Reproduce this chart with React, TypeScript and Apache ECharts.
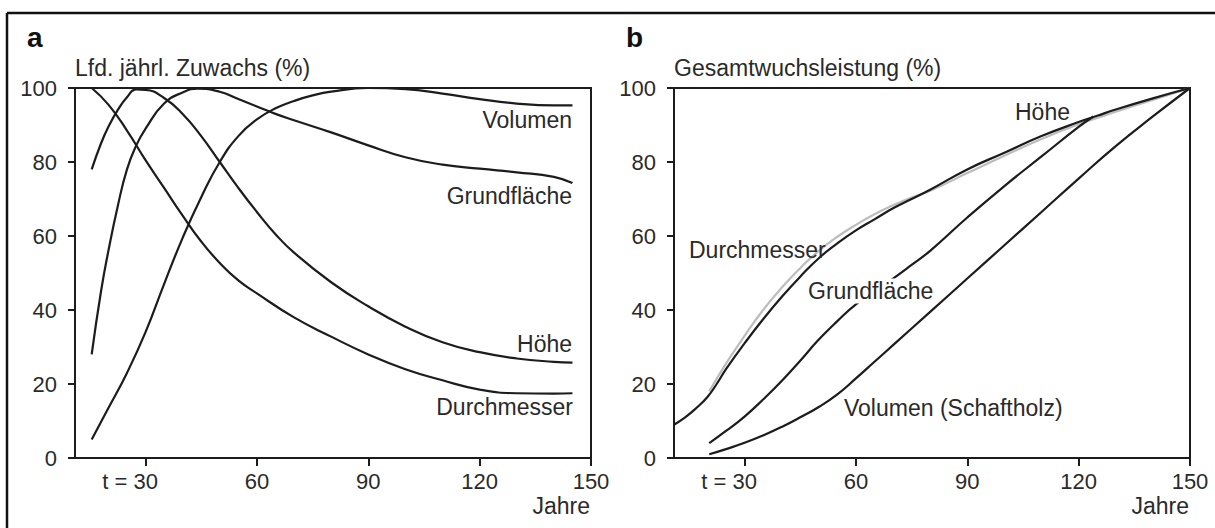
import React, { useEffect, useRef } from "react";
import * as echarts from "echarts";

// ---------- data ----------
const X_MIN = 11;
const X_MAX = 150;
const xTicks = [30, 60, 90, 120, 150];
const yTicks = [0, 20, 40, 60, 80, 100];

// Panel a: laufender jährlicher Zuwachs (%)
const aDurchmesserYears = [15.5, 20, 25, 30, 35, 40, 45, 50, 55, 60, 70, 80, 90, 100, 110, 120, 130, 140, 145];
const aDurchmesserVals = [100, 95.5, 88.5, 80.5, 73, 65.5, 58.5, 52.7, 48, 44.5, 38, 32.8, 28, 24, 21, 18.5, 17.5, 17.4, 17.5];

const aHoeheYears = [15.5, 18, 20, 22.5, 25, 27.5, 30, 35, 40, 45, 50, 55, 60, 65, 70, 80, 90, 100, 110, 120, 130, 140, 145];
const aHoeheVals = [78, 85, 89.5, 94, 97.5, 99.6, 99.5, 97.3, 93, 87, 80, 73, 66.5, 60.5, 55.5, 47.5, 41, 35.5, 31.3, 28.6, 26.9, 26, 25.8];

const aGrundYears = [15.5, 18, 20, 22.5, 25, 27.5, 30, 35, 40, 44, 50, 55, 60, 65, 70, 80, 90, 100, 110, 120, 130, 140, 145];
const aGrundVals = [28, 45, 56, 68, 78, 84.5, 89, 95.8, 98.8, 99.8, 99, 97, 95, 93, 91.3, 88, 84.5, 81.3, 79.3, 78.2, 77.2, 76, 74.3];

const aVolumenYears = [15.5, 20, 25, 30, 35, 40, 45, 50, 55, 60, 65, 70, 75, 80, 90, 100, 110, 120, 130, 140, 145];
const aVolumenVals = [5, 13.5, 23, 34, 47, 59.5, 70.5, 80, 87, 91.5, 94.5, 96.5, 98, 99, 100, 99.7, 98.5, 97, 95.8, 95.3, 95.3];

// Panel b: Gesamtwuchsleistung (%)
const bHoeheYears = [11, 14, 17, 20, 22.5, 25, 30, 35, 40, 45, 50, 55, 60, 65, 70, 75, 80, 90, 100, 110, 120, 125, 130, 140, 150];
const bHoeheVals = [9, 11, 13.5, 16.5, 20, 24, 31, 37.5, 43.5, 49, 54, 58, 61.5, 64.5, 67.5, 70, 72.5, 78, 82.5, 87, 90.8, 92.5, 94.2, 97.2, 100];

const bDurchmesserYears = [20.5, 25, 30, 35, 40, 45, 50, 55, 60, 65, 70, 75, 80, 90, 100, 110, 120, 125, 130, 140, 150];
const bDurchmesserVals = [18, 25.5, 33, 40, 46, 51.3, 56, 59.8, 63, 65.9, 68.3, 70.4, 72.2, 77, 81.7, 86.2, 90.2, 91.9, 93.6, 96.8, 100];

const bGrundYears = [20.5, 25, 30, 35, 40, 45, 50, 55, 60, 65, 70, 75, 80, 90, 100, 110, 120, 124];
const bGrundVals = [4, 7.3, 11.2, 15.8, 20.8, 26.3, 32, 37, 41.5, 45, 48.5, 52.2, 56, 65, 73.5, 81.5, 89.5, 92.3];

const bVolumenYears = [20.5, 25, 30, 35, 40, 45, 50, 55, 60, 65, 70, 80, 90, 100, 110, 120, 130, 140, 150];
const bVolumenVals = [1, 2.4, 4.1, 6.1, 8.4, 11, 13.8, 17.2, 21.5, 26, 30.5, 39.5, 48.5, 57.5, 66.5, 75.5, 84.3, 92.3, 100];

// ---------- styling ----------
const FONT = "'Liberation Sans', Arial, Helvetica, sans-serif";
const INK = "#1c1c1c";
const TXT = "#2a2a2a";
const GA = { left: 75, top: 88, width: 516, height: 370 };
const GB = { left: 674, top: 88, width: 516, height: 370 };

const zip = (xs: number[], ys: number[]) => xs.map((x, i) => [x, ys[i]]);

function makeX(gridIndex: number) {
  return {
    type: "value",
    gridIndex,
    min: X_MIN,
    max: X_MAX,
    splitLine: { show: false },
    axisLine: { show: true, lineStyle: { color: INK, width: 2 } },
    axisTick: { show: true, customValues: xTicks, length: 8, lineStyle: { color: INK, width: 2 } },
    axisLabel: {
      customValues: xTicks,
      margin: 12,
      color: TXT,
      fontSize: 22,
      fontFamily: FONT,
      formatter: (v: number) => (v === 30 ? "{pre|t = }{n|30}{pad| }" : "{n|" + v + "}"),
      rich: {
        pre: { fontSize: 22, fontFamily: FONT, color: TXT },
        n: { fontSize: 22, fontFamily: FONT, color: TXT },
        pad: { fontSize: 22, fontFamily: FONT, width: 31 },
      },
    },
  };
}

function makeY(gridIndex: number) {
  return {
    type: "value",
    gridIndex,
    min: 0,
    max: 100,
    interval: 20,
    splitLine: { show: false },
    axisLine: { show: true, lineStyle: { color: INK, width: 2 } },
    axisTick: { show: true, length: 7, lineStyle: { color: INK, width: 2 } },
    axisLabel: {
      margin: 18,
      color: TXT,
      fontSize: 22,
      fontFamily: FONT,
      formatter: (v: number) => (yTicks.includes(v) ? String(v) : ""),
    },
  };
}

function line(name: string, xi: number, xs: number[], ys: number[], color = INK, z = 3) {
  return {
    name,
    type: "line",
    xAxisIndex: xi,
    yAxisIndex: xi,
    data: zip(xs, ys),
    showSymbol: false,
    smooth: 0.5,
    lineStyle: { color, width: 2.2 },
    z,
    silent: true,
  };
}

function txt(text: string, x: number, y: number, opts: any = {}) {
  return {
    type: "text",
    x,
    y,
    z: 20,
    style: {
      text,
      fill: opts.fill || TXT,
      font: `${opts.bold ? "bold " : ""}${opts.size || 23}px ${FONT}`,
      align: opts.align || "left",
      verticalAlign: "middle",
      backgroundColor: opts.bg,
      padding: opts.pad,
    },
  };
}

export default function App() {
  const ref = useRef<HTMLDivElement>(null);
  useEffect(() => {
    if (!ref.current) return;
    const chart = echarts.init(ref.current, null, { renderer: "svg" });
    chart.setOption({
      animation: false,
      backgroundColor: "#ffffff",
      grid: [
        { ...GA, show: true, borderColor: INK, borderWidth: 2, containLabel: false },
        { ...GB, show: true, borderColor: INK, borderWidth: 2, containLabel: false },
      ],
      xAxis: [makeX(0), makeX(1)],
      yAxis: [makeY(0), makeY(1)],
      series: [
        line("Durchmesser a", 0, aDurchmesserYears, aDurchmesserVals),
        line("Höhe a", 0, aHoeheYears, aHoeheVals),
        line("Grundfläche a", 0, aGrundYears, aGrundVals),
        line("Volumen a", 0, aVolumenYears, aVolumenVals),
        line("Durchmesser b", 1, bDurchmesserYears, bDurchmesserVals, "#bdbdbd", 2),
        line("Höhe b", 1, bHoeheYears, bHoeheVals),
        line("Grundfläche b", 1, bGrundYears, bGrundVals),
        line("Volumen b", 1, bVolumenYears, bVolumenVals),
      ],
      graphic: [
        { type: "line", z: 20, shape: { x1: 7, y1: 13, x2: 1215, y2: 13 }, style: { stroke: "#111", lineWidth: 2.5 } },
        { type: "line", z: 20, shape: { x1: 7, y1: 13, x2: 7, y2: 528 }, style: { stroke: "#111", lineWidth: 2.5 } },
        txt("a", 27, 37, { bold: true, size: 28, fill: "#111" }),
        txt("b", 626, 37, { bold: true, size: 28, fill: "#111" }),
        txt("Lfd. jährl. Zuwachs (%)", 75, 68),
        txt("Gesamtwuchsleistung (%)", 674, 68),
        txt("Jahre", 590, 506, { align: "right" }),
        txt("Jahre", 1189, 506, { align: "right" }),
        txt("Volumen", 572, 120, { align: "right" }),
        txt("Grundfläche", 572, 196, { align: "right" }),
        txt("Höhe", 572, 344, { align: "right" }),
        txt("Durchmesser", 573, 407, { align: "right" }),
        txt("Höhe", 1015, 112),
        txt("Durchmesser", 689, 250),
        txt("Grundfläche", 806, 291, { bg: "#ffffff", pad: [1, 2, 1, 2] }),
        txt("Volumen (Schaftholz)", 844, 408),
      ],
    });
    return () => chart.dispose();
  }, []);
  return (
    <div
      ref={ref}
      style={{ position: "fixed", left: 0, top: 0, width: 1215, height: 528, background: "#fff" }}
    />
  );
}
